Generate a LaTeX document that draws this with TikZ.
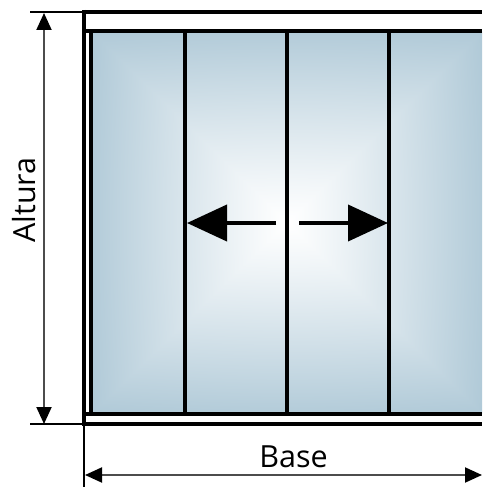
\documentclass[tikz,border=0pt]{standalone}
\usepackage{fontspec}
\setmainfont{Open Sans}
\usetikzlibrary{arrows.meta}
\pgfdeclarefunctionalshading{glassshade}{\pgfpoint{0bp}{0bp}}{\pgfpoint{100bp}{100bp}}{}{
 50 sub 25 div abs exch 50 sub 25 div abs
 2 copy dup mul exch dup mul add sqrt 1.414 div
 3 1 roll 2 copy lt {exch} if pop
 0.88 mul exch 0.12 mul add 1.1 exp
 dup 0.31 mul 1 exch sub exch
 dup 0.21 mul 1 exch sub exch
 0.155 mul 1 exch sub
}
\tikzset{
 x=1pt,y=-1pt,
 frameline/.style={line width=4pt,black},
 divider/.style={line width=3.8pt,black},
 extline/.style={line width=2.2pt,black},
 dimarrow/.style={line width=2pt,draw=black!70,{Triangle[length=17pt,width=15pt,black]}-{Triangle[length=17pt,width=15pt,black]}},
 motion/.style={line width=4pt,black,-{Triangle[length=40pt,width=36pt,black]}},
 dimlabel/.style={font=\fontsize{30.5}{30.5}\selectfont,inner sep=0pt,text=black}
}
\begin{document}
\begin{tikzpicture}
\useasboundingbox (0,0) rectangle (482,487);
\fill[white] (0,0) rectangle (482,487);
% glass
\shade[shading=glassshade] (92,32) rectangle (482,413);
% extension lines
\coordinate (tl) at (30,12);
\coordinate (tm) at (84,12);
\coordinate (tr) at (482,12);
\coordinate (bl) at (30,424);
\coordinate (bm) at (84,424);
\coordinate (br) at (482,424);
\draw[extline] (tl) -- (tm);
\draw[extline] (bl) -- (bm);
% frame
\draw[frameline] (tm) -- (tr);
\draw[frameline] (bm) -- (br);
\draw[frameline] (84,31) -- (482,31);
\draw[frameline] (84,414.3) -- (482,414.3);
\draw[frameline] (84,10) -- (84,426);
\draw[divider] (91,31) -- (91,414);
\draw[extline] (84,424) -- (84,487);
% dividers
\draw[divider] (185.3,31) -- (185.3,414);
\draw[divider] (287,31) -- (287,414);
\draw[divider] (389,31) -- (389,414);
% motion arrows
\coordinate (ml1) at (276,223);
\coordinate (ml2) at (187,223);
\coordinate (mr1) at (299,223);
\coordinate (mr2) at (388,223);
\draw[motion] (ml1) -- (ml2);
\draw[motion] (mr1) -- (mr2);
% dimensions
\coordinate (a1) at (44,13);
\coordinate (a2) at (44,424);
\coordinate (b1) at (85,475);
\coordinate (b2) at (482,475);
\draw[dimarrow] (a1) -- (a2);
\draw[dimarrow] (b1) -- (b2);
\node[dimlabel,rotate=90] (altura) at (24,200) {Altura};
\node[dimlabel] (base) at (293.5,456.5) {Base};
\end{tikzpicture}
\end{document}
